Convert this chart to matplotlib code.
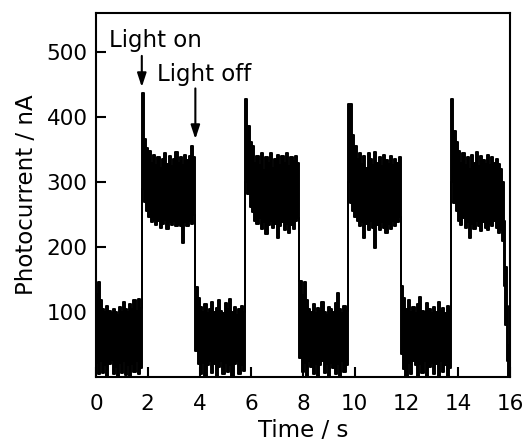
import numpy as np
import matplotlib
matplotlib.use("Agg")
import matplotlib.pyplot as plt

# ---- data ----
seg_bounds = [0.0, 1.77, 3.84, 5.76, 7.86, 9.73, 11.78, 13.73, 15.70, 15.98]

dark0_upper = [128, 146, 118, 104, 100, 110, 102, 98, 104, 100, 96, 108, 100, 116, 104, 100, 112, 104, 118, 102, 120, 106]
dark0_lower = [22, 4, 24, 6, 18, 2, 20, 26, 4, 16, 2, 22, 6, 24, 3, 18, 2, 20, 8, 24, 4, 14]

light1_upper = [437, 366, 352, 348, 330, 342, 326, 338, 322, 336, 344, 328, 340, 324, 336, 346, 330, 338, 326, 342, 334, 340, 356, 338]
light1_lower = [290, 270, 256, 246, 238, 242, 234, 240, 230, 236, 242, 228, 238, 234, 240, 232, 236, 232, 206, 238, 232, 240, 236, 250]

dark1_upper = [138, 122, 108, 100, 112, 98, 104, 116, 100, 106, 118, 102, 98, 114, 104, 120, 100, 108, 96, 104, 110, 100]
dark1_lower = [40, 20, 4, 22, 2, 18, 24, 6, 20, 2, 16, 24, 4, 22, 8, 18, 2, 20, 24, 4, 18, 10]

light2_upper = [428, 386, 362, 356, 330, 340, 326, 344, 318, 338, 330, 344, 322, 336, 342, 326, 340, 330, 344, 324, 338, 332, 340, 330]
light2_lower = [300, 282, 262, 254, 240, 236, 244, 228, 238, 220, 234, 240, 230, 236, 214, 232, 238, 226, 236, 222, 234, 228, 240, 244]

dark2_upper = [148, 126, 146, 118, 104, 100, 112, 98, 106, 102, 116, 100, 96, 108, 104, 100, 114, 130, 104, 98, 110, 102]
dark2_lower = [30, 8, 22, 2, 24, 16, 4, 20, 2, 18, 24, 6, 20, 2, 22, 14, 4, 20, 2, 24, 8, 18]

light3_upper = [420, 420, 372, 356, 336, 344, 328, 340, 322, 344, 336, 326, 346, 330, 338, 324, 342, 334, 328, 340, 326, 336, 330, 338]
light3_lower = [300, 268, 256, 246, 240, 232, 238, 214, 236, 226, 240, 230, 198, 234, 226, 238, 230, 222, 236, 228, 240, 232, 238, 246]

dark3_upper = [140, 122, 104, 118, 100, 108, 98, 112, 123, 102, 100, 114, 104, 98, 108, 100, 116, 102, 106, 98, 110, 104]
dark3_lower = [36, 12, 2, 22, 4, 24, 18, 2, 20, 6, 24, 2, 16, 22, 4, 20, 2, 24, 8, 18, 2, 14]

light4_upper = [428, 378, 362, 348, 330, 344, 326, 338, 320, 342, 330, 346, 324, 340, 334, 328, 342, 326, 338, 330, 336, 328, 320]
light4_lower = [300, 268, 256, 240, 234, 244, 230, 238, 214, 236, 228, 240, 232, 224, 238, 230, 226, 236, 232, 240, 230, 222, 226]

decay_upper = [300, 240, 170, 110, 50]
decay_lower = [210, 140, 80, 25, 2]

x_ticks = [0, 2, 4, 6, 8, 10, 12, 14, 16]
y_ticks = [100, 200, 300, 400, 500]
light_on_time = 1.77
light_off_time = 3.84

segments = [
    (dark0_upper, dark0_lower), (light1_upper, light1_lower),
    (dark1_upper, dark1_lower), (light2_upper, light2_lower),
    (dark2_upper, dark2_lower), (light3_upper, light3_lower),
    (dark3_upper, dark3_lower), (light4_upper, light4_lower),
    (decay_upper, decay_lower),
]

# build time series
t_all, up_all, lo_all = [], [], []
for k, (up, lo) in enumerate(segments):
    start, end = seg_bounds[k], seg_bounds[k + 1]
    n = len(up)
    dt = (end - start) / n
    t_all.extend(start + dt * np.arange(n))
    up_all.extend(up)
    lo_all.extend(lo)
t_all.append(seg_bounds[-1])
up_all.append(up_all[-1])
lo_all.append(lo_all[-1])
t_all = np.array(t_all)
up_all = np.array(up_all, dtype=float)
lo_all = np.array(lo_all, dtype=float)

# ---- figure ----
plt.rcParams['font.family'] = ['DejaVu Sans']
fig = plt.figure(figsize=(5.24, 4.43), dpi=100)
ax = fig.add_axes([96 / 524, 1 - 377 / 443, (510 - 96) / 524, (377 - 13) / 443])

ax.fill_between(t_all, lo_all, up_all, step='post', color='black', lw=0)
ax.plot(t_all, up_all, drawstyle='steps-post', color='black', lw=1.4)
ax.plot(t_all, lo_all, drawstyle='steps-post', color='black', lw=1.4)

ax.set_xlim(0, 16)
ax.set_ylim(0, 560)
ax.set_xticks(x_ticks)
ax.set_yticks(y_ticks)
ax.tick_params(direction='in', length=7, width=1.5, labelsize=15.5)
ax.tick_params(axis='x', pad=12)
ax.tick_params(axis='y', pad=6)
for s in ax.spines.values():
    s.set_linewidth(1.5)

ax.set_xlabel('Time / s', fontsize=16.5, labelpad=4)
ax.set_ylabel('Photocurrent / nA', fontsize=16.5, labelpad=6)

ax.text(0.50, 508, 'Light on', fontsize=16.5, va='baseline', ha='left')
ax.text(2.34, 455, 'Light off', fontsize=16.5, va='baseline', ha='left')
arrow_style = dict(arrowstyle='-|>,head_length=0.55,head_width=0.18',
                   color='black', lw=1.5, mutation_scale=15, shrinkA=0, shrinkB=0)
ax.annotate('', xy=(light_on_time, 446), xytext=(light_on_time, 494), arrowprops=arrow_style)
ax.annotate('', xy=(light_off_time, 366), xytext=(light_off_time, 444), arrowprops=arrow_style)

fig.savefig('out.png', dpi=100)
